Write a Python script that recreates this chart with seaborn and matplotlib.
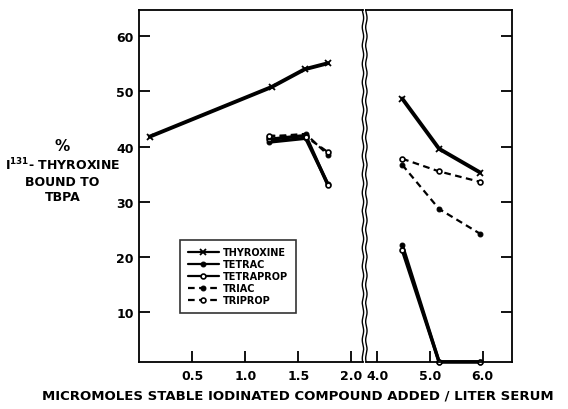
import matplotlib
matplotlib.use("Agg")
import matplotlib.pyplot as plt
import numpy as np
import pandas as pd
import seaborn as sns
from matplotlib.lines import Line2D

sns.set_style("ticks")
plt.rcParams["font.family"] = ["DejaVu Sans"]
plt.rcParams["font.weight"] = "bold"
plt.rcParams["text.color"] = "black"
plt.rcParams["xtick.color"] = "black"
plt.rcParams["ytick.color"] = "black"
plt.rcParams["axes.edgecolor"] = "black"

# values (x in micromoles / liter, y in % bound)
series = ["THYROXINE", "TETRAC", "TETRAPROP", "TRIAC", "TRIPROP"]

# low dose part (0 - 2.1)
thy_lo_x = [0.1, 1.25, 1.56, 1.78]
thy_lo_y = [41.8, 50.8, 54.0, 55.1]
oth_lo_x = [1.22, 1.57, 1.78]
tetrac_lo = [40.8, 41.5, 33.2]
tetraprop_lo = [41.3, 42.0, 33.0]
triac_lo = [41.8, 42.3, 38.5]
triprop_lo = [42.0, 41.8, 39.0]

# high dose part (4 - 6)
hi_x = [4.47, 5.17, 5.95]
thy_hi = [48.7, 39.6, 35.3]
tetrac_hi = [22.2, 1.0, 1.0]
tetraprop_hi = [21.3, 1.0, 1.0]
triac_hi = [36.7, 28.7, 24.2]
triprop_hi = [37.8, 35.5, 33.6]

lo = pd.DataFrame({
    "x": thy_lo_x + oth_lo_x * 4,
    "y": thy_lo_y + tetrac_lo + tetraprop_lo + triac_lo + triprop_lo,
    "compound": ["THYROXINE"] * 4 + sum([[s] * 3 for s in series[1:]], []),
})
hi = pd.DataFrame({
    "x": hi_x * 5,
    "y": thy_hi + tetrac_hi + tetraprop_hi + triac_hi + triprop_hi,
    "compound": sum([[s] * 3 for s in series], []),
})

styles = {
    "THYROXINE": dict(ls="-", lw=2.8, marker="x", ms=4, mew=1.3, mfc="black"),
    "TETRAC": dict(ls="-", lw=2.4, marker="o", ms=3.5, mfc="black"),
    "TETRAPROP": dict(ls="-", lw=2.4, marker="o", ms=3.5, mfc="white", mew=1.2),
    "TRIAC": dict(ls=(0, (3, 2)), lw=1.6, marker="o", ms=3.5, mfc="black"),
    "TRIPROP": dict(ls=(0, (3, 2)), lw=1.6, marker="o", ms=3.5, mfc="white", mew=1.2),
}

fig = plt.figure(figsize=(5.68, 4.1), dpi=100)
ax1 = fig.add_axes([0.245, 0.115, 0.394, 0.859])
ax2 = fig.add_axes([0.645, 0.115, 0.256, 0.859])

for s in series:
    d = lo[lo["compound"] == s]
    sns.lineplot(data=d, x="x", y="y", ax=ax1, color="black", mec="black",
                 clip_on=False, label=s, **styles[s])
    d = hi[hi["compound"] == s]
    sns.lineplot(data=d, x="x", y="y", ax=ax2, color="black", mec="black",
                 clip_on=False, legend=False, **styles[s])

for ax in (ax1, ax2):
    ax.set_ylim(1, 64.8)
    ax.set_xlabel("")
    ax.set_ylabel("")
    ax.tick_params(direction="in", length=8, width=1.3, labelsize=9, pad=4)
    for sp in ax.spines.values():
        sp.set_linewidth(1.3)

ax1.set_xlim(0, 2.11)
ax1.set_xticks([0.5, 1.0, 1.5, 2.0])
ax1.set_xticklabels(["0.5", "1.0", "1.5", "2.0"])
ax1.set_yticks([10, 20, 30, 40, 50, 60])
ax1.set_yticklabels(["10", "20", "30", "40", "50", "60"])
ax1.spines["right"].set_visible(False)
ax1.tick_params(axis="x", pad=5)

ax2.set_xlim(3.79, 6.55)
ax2.set_xticks([4.0, 5.0, 6.0])
ax2.set_xticklabels(["4.0", "5.0", "6.0"])
ax2.set_yticks([10, 20, 30, 40, 50, 60])
ax2.yaxis.tick_right()
ax2.tick_params(axis="y", labelright=False)
ax2.tick_params(axis="x", pad=5)
ax2.spines["left"].set_visible(False)

# wavy break lines
yy = np.linspace(0.115, 0.974, 200)
for xp in (0.639, 0.645):
    xx = xp + 0.0012 * np.sin(yy * 140)
    fig.add_artist(Line2D(xx, yy, color="black", lw=1.0))

leg = ax1.legend(loc="lower left", bbox_to_anchor=(0.16, 0.125), frameon=True,
                 fancybox=False, edgecolor="black", fontsize=7, handlelength=3.2,
                 borderpad=0.8, labelspacing=0.2, handletextpad=0.4)
leg.get_frame().set_linewidth(1.2)
for h in leg.legend_handles:
    h.set_linewidth(1.6)

# y axis title, one line at a time
ylab_lines = ["%", "I$^{\\mathbf{131}}$- THYROXINE", "BOUND TO", "TBPA"]
ylab_pos = [0.642, 0.598, 0.556, 0.518]
for t, yp in zip(ylab_lines, ylab_pos):
    fig.text(0.11, yp, t, ha="center", va="center",
             fontsize=11 if t == "%" else 9, fontweight="bold")

fig.text(0.525, 0.035, "MICROMOLES STABLE IODINATED COMPOUND ADDED / LITER SERUM",
         ha="center", va="center", fontsize=9.5, fontweight="bold")

fig.savefig("out.png", dpi=100)
